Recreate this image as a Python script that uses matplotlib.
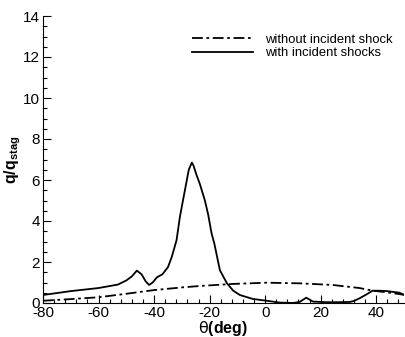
import matplotlib.pyplot as plt
from matplotlib.ticker import MultipleLocator

plt.rcParams['font.family'] = ['Liberation Sans', 'DejaVu Sans']
plt.rcParams['axes.unicode_minus'] = False

# -----------------------------------------------------------------------------
# Data (theta in deg, q/q_stag)
# -----------------------------------------------------------------------------
theta_no_shock = [-80, -70, -60, -50, -40, -30, -23.5, -11.6, 0.5, 12.4, 24.3, 34, 38.7, 44, 50]
q_no_shock = [0.11, 0.19, 0.28, 0.45, 0.63, 0.76, 0.83, 0.93, 0.99, 0.96, 0.88, 0.73, 0.6, 0.52, 0.4]

theta_shock = [-80, -70, -60, -53, -50, -48, -46.2, -44.5, -43, -41.8, -40.5, -39, -37,
               -35, -33.6, -31.9, -30.7, -29.6, -28.2, -27.5, -26.4, -25.8, -24.7,
               -23.5, -21.7, -20.5, -19.3, -18.3, -16.3, -13.8, -11.5, -9.1, -4.5,
               0.5, 5.3, 10, 12.4, 14.8, 17.2, 22, 27, 30.4, 32, 34, 36.5, 38.7,
               41, 44, 48.4, 50]
q_shock = [0.39, 0.58, 0.73, 0.9, 1.1, 1.3, 1.58, 1.4, 1.05, 0.88, 1.0, 1.25, 1.4,
           1.75, 2.26, 3.07, 4.2, 5.0, 6.0, 6.5, 6.85, 6.7, 6.24,
           5.8, 5.0, 4.3, 3.4, 2.9, 1.6, 0.97, 0.6, 0.39, 0.2,
           0.11, 0.02, 0.0, 0.05, 0.26, 0.07, 0.04, 0.04, 0.05, 0.1, 0.23, 0.42, 0.6,
           0.6, 0.58, 0.5, 0.4]

# -----------------------------------------------------------------------------
# Plot
# -----------------------------------------------------------------------------
fig = plt.figure(figsize=(4.05, 3.37), dpi=100)
ax = fig.add_axes([43 / 405, 34 / 337, 361 / 405, 287 / 337])

ax.plot(theta_no_shock, q_no_shock, color="black", lw=1.3, linestyle=(0, (6, 2, 1.5, 2)),
        label="without incident shock")
ax.plot(theta_shock, q_shock, color="black", lw=1.3, label="with incident shocks")

ax.set_xlim(-80, 50)
ax.set_ylim(0, 14)
ax.xaxis.set_major_locator(MultipleLocator(20))
ax.xaxis.set_minor_locator(MultipleLocator(4))
ax.yaxis.set_major_locator(MultipleLocator(2))
ax.yaxis.set_minor_locator(MultipleLocator(0.5))
ax.tick_params(which="both", direction="in", labelsize=11, width=0.8, pad=2)
ax.tick_params(which="major", length=6)
ax.tick_params(which="minor", length=3)
ax.spines["top"].set_visible(False)
ax.spines["right"].set_visible(False)

ax.set_xlabel(r"$\mathrm{\theta}$(deg)", fontsize=11.5, fontweight="bold", labelpad=-0.5)
ax.set_ylabel(r"q/q$_\mathregular{stag}$", fontsize=11.5, fontweight="bold", labelpad=0)

ax.legend(loc="upper right", bbox_to_anchor=(1.0, 0.98), frameon=False, fontsize=9.4,
          handlelength=4.7, handletextpad=0.9, labelspacing=0.1)

plt.savefig("out.png", dpi=100)
plt.close()
